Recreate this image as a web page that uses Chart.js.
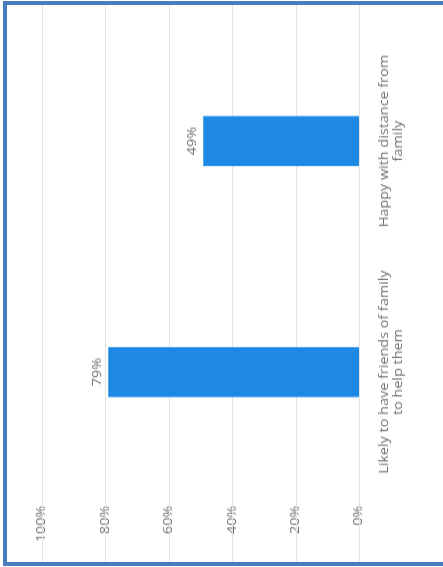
<!DOCTYPE html>
<html>
<head>
<meta charset="utf-8">
<script src="https://cdn.jsdelivr.net/npm/chart.js@4/dist/chart.umd.min.js"></script>
<style>
  html, body { margin: 0; padding: 0; background: #fff; overflow: hidden; }
  /* the chart is laid out landscape and turned on its side */
  #stage {
    position: absolute; left: 0; top: 0;
    width: 567px; height: 443px;
    transform-origin: 0 0;
    transform: translate(0, 567px) rotate(-90deg);
  }
  #chart {
    position: absolute; left: 5px; top: 7px;
    transform-origin: 0 0; transform: scaleX(1.2);
  }
  /* panel outline, open on the right */
  #outline {
    position: absolute; left: 3px; top: 1px;
    width: 460px; height: 557px;
    border: 4px solid #4b7dbe; border-right: none;
    pointer-events: none;
  }
</style>
</head>
<body>
<div id="stage">
  <canvas id="chart" width="464" height="436"></canvas>
</div>
<div id="outline"></div>
<script>
const categories = [
  ['Likely to have friends of family', 'to help them'],
  ['Happy with distance from', 'family'],
];
const shares = [79, 49];
const percentTicks = [0, 20, 40, 60, 80, 100];

const GRID = '#e4e4e4';
const TEXT = '#707070';

Chart.defaults.font.family = "'Open Sans', sans-serif";
Chart.defaults.font.size = 12;
Chart.defaults.color = TEXT;

// horizontal rules run edge to edge, through the tick label column too
const fullGrid = {
  id: 'fullGrid',
  beforeDatasetsDraw(chart) {
    const { ctx, width } = chart;
    const y = chart.scales.y;
    ctx.save();
    ctx.strokeStyle = GRID;
    ctx.lineWidth = 1;
    y.ticks.forEach(t => {
      const py = Math.round(y.getPixelForValue(t.value)) + 0.5;
      ctx.beginPath();
      ctx.moveTo(0, py);
      ctx.lineTo(width, py);
      ctx.stroke();
    });
    ctx.restore();
  },
};

const valueLabels = {
  id: 'valueLabels',
  afterDatasetsDraw(chart) {
    const { ctx } = chart;
    const meta = chart.getDatasetMeta(0);
    ctx.save();
    ctx.fillStyle = TEXT;
    ctx.font = "12px 'Open Sans', sans-serif";
    ctx.textAlign = 'center';
    ctx.textBaseline = 'bottom';
    meta.data.forEach((bar, i) => {
      ctx.fillText(shares[i] + '%', bar.x, bar.y - 5);
    });
    ctx.restore();
  },
};

new Chart(document.getElementById('chart'), {
  type: 'bar',
  data: {
    labels: categories,
    datasets: [{
      data: shares,
      backgroundColor: '#1e88e5',
      barThickness: 41,
    }],
  },
  options: {
    responsive: false,
    animation: false,
    layout: { padding: { top: 35, right: 17, bottom: 0, left: 0 } },
    plugins: {
      legend: { display: false },
      tooltip: { enabled: false },
    },
    scales: {
      x: {
        grid: { display: false, drawTicks: false },
        border: { display: false },
        ticks: { padding: 18, maxRotation: 0, autoSkip: false, color: TEXT },
        afterFit: s => { s.height = 84; },
      },
      y: {
        min: 0,
        max: 100,
        afterBuildTicks: s => { s.ticks = percentTicks.map(v => ({ value: v })); },
        grid: { display: false, drawTicks: false },
        border: { display: false },
        ticks: { padding: 15, color: TEXT, callback: v => v + '%' },
        afterFit: s => { s.width = 62; },
      },
    },
  },
  plugins: [fullGrid, valueLabels],
});
</script>
</body>
</html>
